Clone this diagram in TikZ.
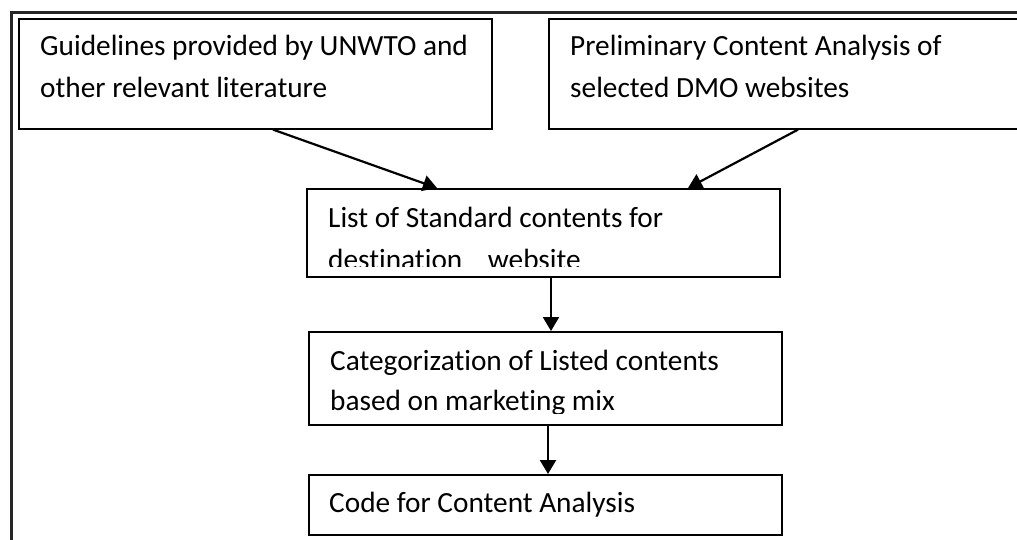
\documentclass[tikz,border=0pt]{standalone}
\usepackage{fontspec}
\setmainfont[Ligatures={NoCommon,NoContextual,NoRare},Contextuals=NoAlternate,RawFeature={-liga;-clig;-calt}]{Carlito}
\usetikzlibrary{arrows.meta}
\newcommand{\nolig}{\kern0pt\relax}
\tikzset{
  box/.style={draw=black, line width=1.6pt, rectangle, inner sep=0pt, anchor=north west},
  txt/.style={anchor=base west, inner sep=0pt, font=\fontsize{29.3}{42}\selectfont},
  arr/.style={line width=2.2pt, -{Triangle[length=14pt,width=16pt]}},
  frame/.style={draw=black!85, line width=2.2pt}
}
\begin{document}
\begin{tikzpicture}[x=1pt,y=-1pt]
\clip (0,0) rectangle (1017,539);
\fill[white] (0,0) rectangle (1017,539);
% outer frame (left and top)
\draw[frame] (11.5,545) -- (11.5,12.5) -- (1030,12.5);
% boxes
\node[box, minimum width=473pt, minimum height=110pt] (b1) at (18,18) {};
\node[box, minimum width=490pt, minimum height=110pt] (b2) at (548,18) {};
\node[box, minimum width=473pt, minimum height=88pt] (b3) at (306,188) {};
\node[box, minimum width=473pt, minimum height=93pt] (b4) at (308,331) {};
\node[box, minimum width=473pt, minimum height=60pt] (b5) at (308,474) {};
% texts
\node[txt] (t1a) at (40,55) {Guidelines provided by UNWTO and};
\node[txt] (t1b) at (40,97) {other relevant lit\nolig erat\nolig ure};
\node[txt] (t2a) at (570,55) {Preliminary Content Analysis of};
\node[txt] (t2b) at (570,97) {selected DMO websites};
\node[txt] (t3a) at (328,227) {List of Standard contents for};
\begin{scope}
\clip (300,230) rectangle (790,266);
\node[txt] (t3b) at (328,269) {destinat\nolig ion\hspace{19pt} website};
\end{scope}
\node[txt] (t4a) at (330,370) {Categorizat\nolig ion of Listed contents};
\begin{scope}
\clip (300,375) rectangle (790,413);
\node[txt] (t4b) at (330,410) {based on market\nolig ing mix};
\end{scope}
\node[txt] (t5) at (329,512) {Code for Content Analysis};
% connectors
\draw[arr] ([xshift=255pt]b1.south west) -- ([xshift=131pt]b3.north west);
\draw[arr] ([xshift=250pt]b2.south west) -- ([xshift=382pt]b3.north west);
\draw[arr] ([xshift=245pt]b3.south west) -- ([xshift=245pt]b3.south west |- b4.north);
\draw[arr] ([xshift=240pt]b4.south west) -- ([xshift=240pt]b4.south west |- b5.north);
\end{tikzpicture}
\end{document}
